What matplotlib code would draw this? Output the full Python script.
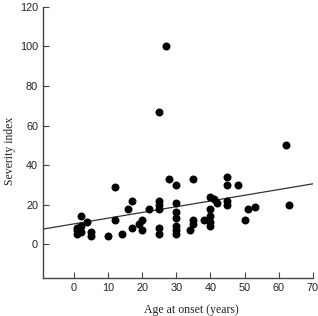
import matplotlib
matplotlib.use("Agg")
import numpy as np
import matplotlib.pyplot as plt

# Age at onset (years) and severity index
age = [1, 1, 1, 2, 2, 2, 4, 5, 5, 10, 12, 12, 14, 16, 17, 17, 19, 20, 20, 22,
       25, 25, 25, 25, 25, 25, 27, 28, 30, 30, 30, 30, 30, 30, 30,
       34, 35, 35, 35, 38, 40, 40, 40, 40, 40, 41, 42,
       45, 45, 45, 45, 48, 50, 51, 53, 62, 63]
severity = [5, 7, 8, 6, 9, 14, 11, 6, 4, 4, 29, 12, 5, 18, 22, 8, 10, 12, 7, 18,
            22, 20, 18, 8, 5, 67, 100, 33, 30, 21, 16, 13, 9, 7, 5,
            7, 33, 12, 10, 12, 24, 18, 14, 11, 9, 23, 21,
            34, 30, 22, 20, 30, 12, 18, 19, 50, 20]

# regression line as drawn
line_x = [-9, 70]
intercept = 10.2
slope = 0.29

fig = plt.figure(figsize=(3.18, 3.16), dpi=100)
ax = fig.add_axes([0.135, 0.12, 0.849, 0.858])

ax.scatter(age, severity, s=33, color='black', zorder=3, linewidths=0)
ax.plot(line_x, [intercept + slope * v for v in line_x], color='#333333', lw=0.9)

ax.set_xlim(-9, 70)
ax.set_ylim(-17.2, 120)
ax.set_xticks(range(0, 80, 10))
ax.set_yticks(range(0, 140, 20))

for s in ['top', 'right']:
    ax.spines[s].set_visible(False)
for s in ['left', 'bottom']:
    ax.spines[s].set_color('#444444')
    ax.spines[s].set_linewidth(1.0)

ax.tick_params(direction='in', length=4, width=0.8, colors='#444444',
               labelcolor='#222222', labelsize=7.8)
for lab in ax.get_xticklabels() + ax.get_yticklabels():
    lab.set_family('Liberation Sans')

ax.set_xlabel('Age at onset (years)', family='Liberation Serif', fontsize=8.5,
              color='#222222', va='center')
ax.xaxis.set_label_coords(0.55, -0.118)
ax.set_ylabel('Severity index', family='Liberation Serif', fontsize=8.5,
              color='#222222', va='center')
ax.yaxis.set_label_coords(-0.122, 0.47)

fig.savefig('out.png', dpi=100)
